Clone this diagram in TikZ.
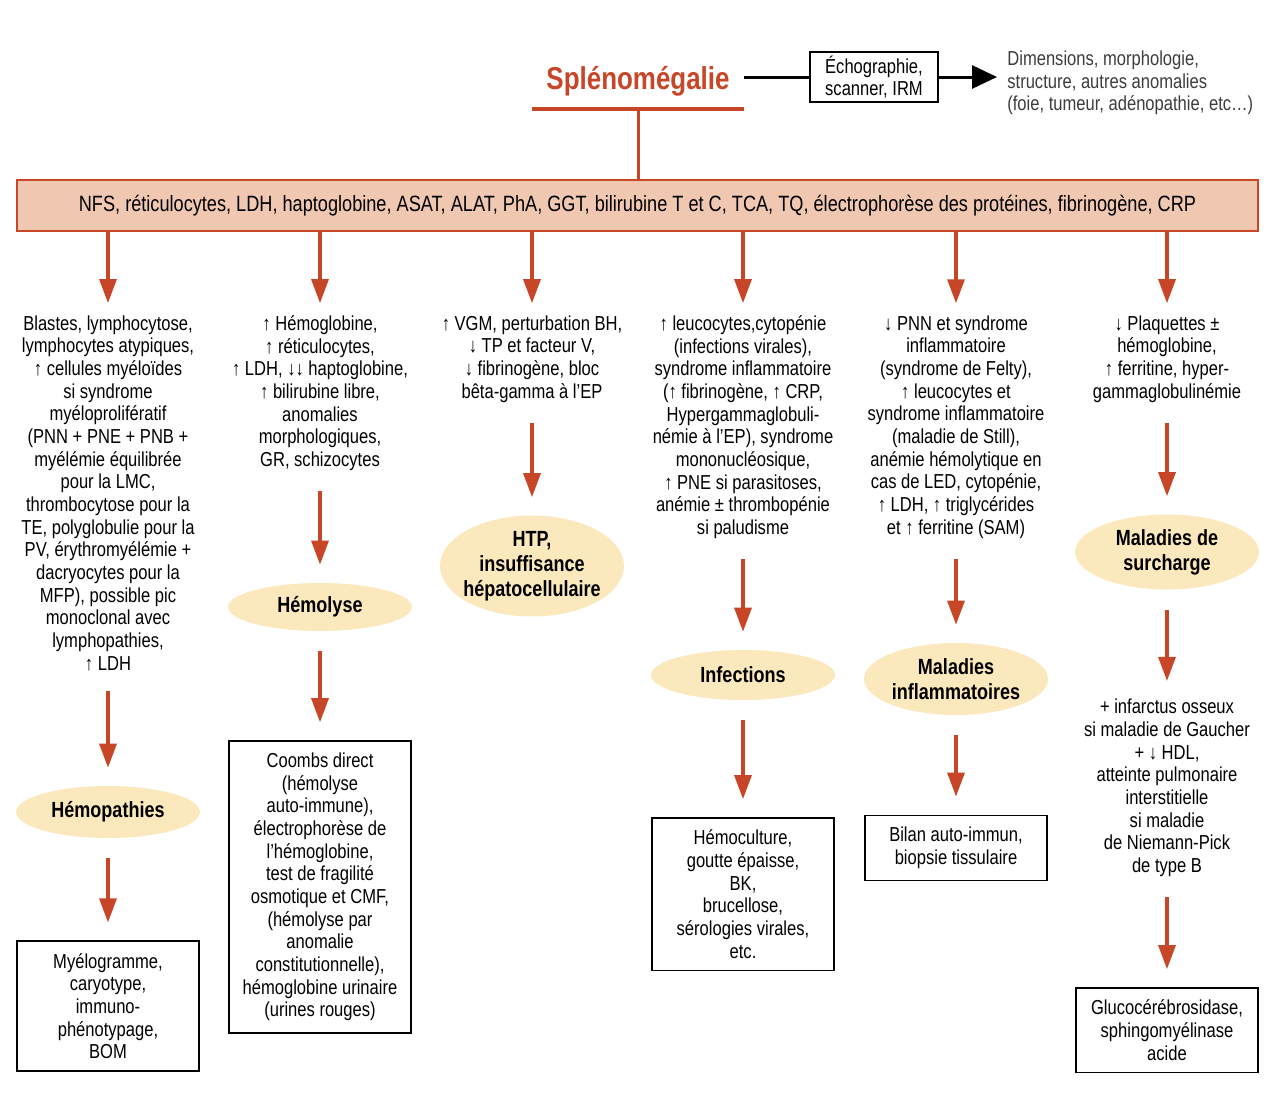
\documentclass[tikz,border=0pt]{standalone}
\usepackage{fontspec}
\setmainfont[FakeStretch=0.82]{Liberation Sans}
\usepackage{tikz}
\usetikzlibrary{arrows.meta,shapes.geometric}
\definecolor{splred}{RGB}{200,70,40}
\definecolor{bandfill}{RGB}{240,200,178}
\definecolor{dxfill}{RGB}{251,232,188}
\definecolor{greytext}{RGB}{60,60,60}
\newcommand{\upar}{\textbf{↑}}
\newcommand{\dnar}{\textbf{↓}}

\begin{document}
\begin{tikzpicture}[x=0.02cm, y=-0.02cm,
    bio/.style={align=center, inner sep=0pt, font=\fontsize{11.5}{12.9}\selectfont},
    dx/.style={ellipse, fill=dxfill, inner xsep=-0.1cm, inner ysep=0pt, minimum width=3.68cm,
      align=center, font=\fontsize{12.5}{14.2}\selectfont\bfseries},
    exam/.style={draw, line width=0.8pt, minimum width=3.64cm, inner xsep=0pt, inner ysep=0.24cm,
      align=center, font=\fontsize{11.5}{12.9}\selectfont},
    redarrow/.style={draw=splred, line width=0.065cm, -{Triangle[length=0.48cm,width=0.34cm]},
      shorten <=0.4cm, shorten >=0.36cm}]
  \useasboundingbox (0,0) rectangle (1280,1112);

  % Title and imaging
  \node[text=splred, font=\fontsize{18}{20}\selectfont\bfseries, minimum width=4.24cm, inner ysep=0.26cm]
      (title) at (638,81) {Splénomégalie};
  \draw[splred, line width=0.085cm] (title.south west) -- (title.south east);
  \node[draw, line width=0.8pt, minimum width=2.56cm, minimum height=1cm, inner sep=0pt, align=center,
      font=\fontsize{11.5}{12.9}\selectfont] (imaging) at (874,77) {Échographie,\\scanner, IRM};
  \node[anchor=west, align=left, inner sep=0pt, text=greytext, font=\fontsize{11.5}{12.9}\selectfont]
      (morpho) at (1007,83) {Dimensions, morphologie,\\structure, autres anomalies\\(foie, tumeur, adénopathie, etc…)};
  \draw[line width=0.06cm] (title.east |- imaging.west) -- (imaging.west);
  \draw[line width=0.06cm, -{Triangle[length=0.5cm,width=0.46cm]}, shorten >=0.2cm]
      (imaging.east) -- (imaging.east -| morpho.west);

  % Biology band
  \node[draw=splred, line width=1.2pt, fill=bandfill, minimum width=24.82cm, minimum height=1.02cm,
      inner sep=0pt, font=\fontsize{12.6}{14}\selectfont] (band) at (637.5,205.5)
      {NFS, réticulocytes, LDH, haptoglobine, ASAT, ALAT, PhA, GGT, bilirubine T et C, TCA, TQ, électrophorèse des protéines, fibrinogène, CRP};
  \draw[splred, line width=0.06cm] (title.south) -- (title.south |- band.north);

  % Biological findings
  \node[bio] (bio-1) at (108,493) {Blastes, lymphocytose,\\lymphocytes atypiques,\\\upar{} cellules myéloïdes\\si syndrome\\myéloprolifératif\\(PNN + PNE + PNB +\\myélémie équilibrée\\pour la LMC,\\thrombocytose pour la\\TE, polyglobulie pour la\\PV, érythromyélémie +\\dacryocytes pour la\\MFP), possible pic\\monoclonal avec\\lymphopathies,\\\upar{} LDH};
  \node[bio] (bio-2) at (320,393) {\upar{} Hémoglobine,\\\upar{} réticulocytes,\\\upar{} LDH, \dnar\dnar{} haptoglobine,\\\upar{} bilirubine libre,\\anomalies\\morphologiques,\\GR, schizocytes};
  \node[bio] (bio-3) at (532,359) {\upar{} VGM, perturbation BH,\\\dnar{} TP et facteur V,\\\dnar{} fibrinogène, bloc\\bêta-gamma à l’EP};
  \node[bio] (bio-4) at (743,427) {\upar{} leucocytes,cytopénie\\(infections virales),\\syndrome inflammatoire\\(\upar{} fibrinogène, \upar{} CRP,\\Hypergammaglobuli-\\némie à l’EP), syndrome\\mononucléosique,\\\upar{} PNE si parasitoses,\\anémie ± thrombopénie\\si paludisme};
  \node[bio] (bio-5) at (956,427) {\dnar{} PNN et syndrome\\inflammatoire\\(syndrome de Felty),\\\upar{} leucocytes et\\syndrome inflammatoire\\(maladie de Still),\\anémie hémolytique en\\cas de LED, cytopénie,\\\upar{} LDH, \upar{} triglycérides\\et \upar{} ferritine (SAM)};
  \node[bio] (bio-6) at (1167,359) {\dnar{} Plaquettes ±\\hémoglobine,\\\upar{} ferritine, hyper-\\gammaglobulinémie};

  % Diagnoses
  \node[dx, minimum height=1.04cm] (dx-1) at (108,812) {Hémopathies};
  \node[dx, minimum height=0.96cm] (dx-2) at (320,607) {Hémolyse};
  \node[dx, minimum height=2.02cm] (dx-3) at (532,566) {HTP,\\insuffisance\\hépatocellulaire};
  \node[dx, minimum height=1cm] (dx-4) at (743,675) {Infections};
  \node[dx, minimum height=1.44cm] (dx-5) at (956,679) {Maladies\\inflammatoires};
  \node[dx, minimum height=1.5cm] (dx-6) at (1167,552) {Maladies de\\surcharge};
  \node[bio] (extra-6) at (1167,788) {+ infarctus osseux\\si maladie de Gaucher\\+ \dnar{} HDL,\\atteinte pulmonaire\\interstitielle\\si maladie\\de Niemann-Pick\\de type B};

  % Second-line exams
  \node[exam] (exam-1) at (108,1006) {Myélogramme,\\caryotype,\\immuno-\\phénotypage,\\BOM};
  \node[exam] (exam-2) at (320,887) {Coombs direct\\(hémolyse\\auto-immune),\\électrophorèse de\\l'hémoglobine,\\test de fragilité\\osmotique et CMF,\\(hémolyse par\\anomalie\\constitutionnelle),\\hémoglobine urinaire\\(urines rouges)};
  \node[exam] (exam-4) at (743,894) {Hémoculture,\\goutte épaisse,\\BK,\\brucellose,\\sérologies virales,\\etc.};
  \node[exam] (exam-5) at (956,848) {Bilan auto-immun,\\biopsie tissulaire};
  \node[exam] (exam-6) at (1167,1030) {Glucocérébrosidase,\\sphingomyélinase\\acide};

  % Connect band with findings
  \foreach \i in {1,...,6}
      \draw[redarrow, shorten <=0pt, shorten >=0.24cm] (band.south -| bio-\i) -- (bio-\i);

  % Connect findings, diagnoses and exams
  \foreach \a/\b in {bio-1/dx-1, dx-1/exam-1, bio-2/dx-2, dx-2/exam-2, bio-3/dx-3, bio-4/dx-4, dx-4/exam-4,
      bio-5/dx-5, dx-5/exam-5, bio-6/dx-6, dx-6/extra-6, extra-6/exam-6}
      \draw[redarrow] (\a) -- (\b);
\end{tikzpicture}
\end{document}
